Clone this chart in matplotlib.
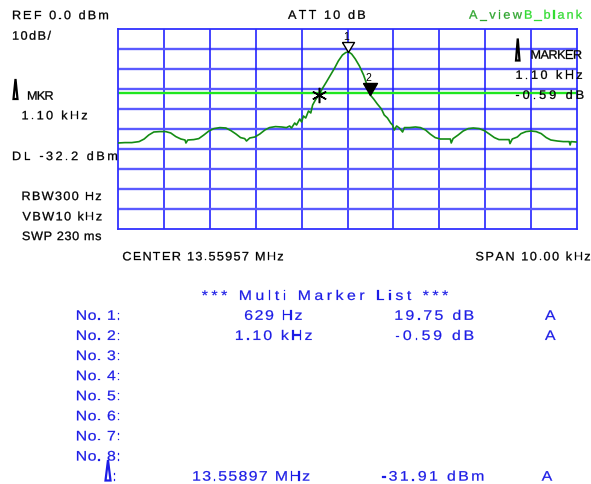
"""Spectrum analyser screen: marker trace plus multi marker list."""

import matplotlib
matplotlib.use("Agg")
import matplotlib.pyplot as plt
from matplotlib import font_manager
from matplotlib.font_manager import FontProperties
from matplotlib.ft2font import FT2Font
from matplotlib.patches import PathPatch, Polygon
from matplotlib.textpath import TextPath
from matplotlib.transforms import Affine2D

W, H, DPI = 591, 485, 100

# ── screen settings ──────────────────────────────────────────────────────────
ref_level_dbm = 0.0
db_per_div = 10
n_div = 10
span_khz = 10.0
display_line_dbm = -32.2

# ── trace, frequency offset from centre (kHz) / level (dBm) ──────────────────
freq_khz = [
    -5.00, -4.85, -4.70, -4.54, -4.43, -4.33, -4.22, -4.09, -3.96, -3.85,
    -3.74, -3.63, -3.54, -3.52, -3.48, -3.35, -3.24, -3.13, -3.02, -2.91,
    -2.78, -2.65, -2.54, -2.43, -2.33, -2.24, -2.20, -2.13, -2.02, -1.91,
    -1.80, -1.70, -1.57, -1.43, -1.33, -1.26, -1.22, -1.15, -1.11, -1.04,
    -1.00, -0.96, -0.91, -0.85, -0.80, -0.76, -0.70, -0.62, -0.54, -0.46,
    -0.37, -0.28, -0.20, -0.11, -0.04, 0.02, 0.09, 0.17, 0.26, 0.35,
    0.41, 0.49, 0.57, 0.65, 0.74, 0.80, 0.87, 0.94, 0.98, 1.02,
    1.07, 1.13, 1.20, 1.24, 1.35, 1.48, 1.59, 1.70, 1.80, 1.91,
    2.02, 2.15, 2.24, 2.26, 2.30, 2.41, 2.52, 2.63, 2.74, 2.87,
    2.98, 3.09, 3.20, 3.30, 3.43, 3.52, 3.54, 3.59, 3.70, 3.78,
    3.89, 4.00, 4.11, 4.22, 4.33, 4.43, 4.57, 4.70, 4.83, 4.85,
    4.87, 4.98,
]
level_dbm = [
    -57.0, -56.8, -56.8, -56.3, -55.0, -53.0, -51.5, -51.3, -51.3, -52.0,
    -53.8, -55.0, -55.5, -57.0, -55.5, -55.3, -54.8, -53.0, -51.0, -49.8,
    -49.3, -49.5, -50.8, -52.5, -54.3, -54.8, -56.0, -54.5, -54.0, -52.5,
    -50.5, -49.3, -48.8, -49.0, -49.3, -48.5, -49.5, -47.0, -48.0, -45.0,
    -46.5, -43.5, -44.5, -41.0, -42.0, -38.0, -35.5, -32.8, -29.5, -26.5,
    -23.0, -19.5, -16.0, -13.0, -11.8, -11.4, -12.5, -15.0, -18.5, -23.0,
    -27.0, -32.8, -35.0, -37.5, -40.0, -43.0, -44.5, -47.0, -48.0, -50.5,
    -48.5, -49.5, -51.5, -49.3, -49.3, -49.0, -49.3, -50.5, -52.5, -54.3,
    -55.0, -55.0, -55.0, -57.0, -54.8, -53.0, -51.0, -49.8, -49.5, -49.8,
    -50.8, -52.5, -54.3, -55.3, -55.3, -55.3, -57.3, -55.0, -54.0, -52.3,
    -51.3, -51.0, -51.3, -52.3, -54.3, -55.5, -56.0, -56.3, -56.3, -58.0,
    -56.3, -56.5,
]

# ── markers (reference marker + delta markers) ───────────────────────────────
ref_mkr_khz = -0.62
ref_mkr_dbm = -32.8
delta_khz = [0.63, 1.10]
delta_level_dbm = [-11.4, -32.8]
delta_names = ["1", "2"]

# ── marker list rows ─────────────────────────────────────────────────────────
row_names = ["No. 1:", "No. 2:", "No. 3:", "No. 4:", "No. 5:", "No. 6:", "No. 7:", "No. 8:"]
row_freq = ["629 Hz", "1.10 kHz"]
row_level = ["19.75 dB", "-0.59 dB"]

# glyph height (px), width stretch and outline weight for each text group
TOP = dict(em=12.2, sx=1.04, lw=0.2)
BLUE = "#1c1ce6"
TAB = dict(em=13.8, sx=1.15, lw=0.15, color=BLUE)
FAMILY = "Liberation Sans"

fig = plt.figure(figsize=(W / DPI, H / DPI), dpi=DPI)
fig.patch.set_facecolor("white")

# plot area in screen pixels: x 118..577, y 30..230
ax = fig.add_axes([118 / W, 1 - 230 / H, (577 - 118) / W, 200 / H])
ax.set_xlim(-span_khz / 2, span_khz / 2)
ax.set_ylim(ref_level_dbm - n_div * db_per_div, ref_level_dbm)
ax.set_xticks([])
ax.set_yticks([])
for s in ax.spines.values():
    s.set_color("#3030ff")
    s.set_linewidth(1.3)

for i in range(1, n_div):
    ax.axvline(-span_khz / 2 + i * span_khz / n_div, color="#2424ff", lw=1.2, zorder=1)
    ax.axhline(ref_level_dbm - i * db_per_div, color="#5a5aff", lw=1.7, zorder=1)

ax.axhline(display_line_dbm, color="#1ee61e", lw=1.7, zorder=2)
ax.plot(freq_khz, level_dbm, color="#148c14", lw=1.2, zorder=3)

# reference marker
ax.plot([ref_mkr_khz], [ref_mkr_dbm], marker=(6, 2, 0), ms=11, mec="black", mew=1.1,
        color="black", ls="none", zorder=5)

# delta markers: triangles with the tip on the trace
tri1 = [(-0.6, 1), (0.6, 1), (0, 0), (-0.6, 1)]
tri2 = [(-0.58, 1), (0.58, 1), (0, 0), (-0.58, 1)]
for name, dk, lv, verts, ms, fill in zip(delta_names, delta_khz, delta_level_dbm,
                                         [tri1, tri2], [14.4, 17.3], ["white", "black"]):
    fx = ref_mkr_khz + dk
    ax.plot([fx], [lv], marker=verts, ms=ms, mfc=fill, mec="black", mew=1.0,
            ls="none", zorder=6)
    ax.annotate(name, xy=(fx, lv), xytext=(-1, 0.5 * ms + 0.6), textcoords="offset points",
                ha="center", va="bottom", fontsize=7.5, family=FAMILY, zorder=7)

# ── letter-spaced screen text, drawn glyph by glyph in pixel units ───────────
FP = FontProperties(family=FAMILY)
ft = FT2Font(font_manager.findfont(FP))


def spread(s, x0, y, x1=None, em=12.2, sx=1.0, lw=0.2, color="black"):
    """Draw s with its ink from x0 to x1 (pixels from left), centred on row y (from top)."""
    ft.set_size(em, 72)
    adv = [ft.load_char(ord(c)).linearHoriAdvance / 65536 * sx for c in s]
    paths = [None if c == " " else TextPath((0, 0), c, size=em, prop=FP) for c in s]
    lsb = paths[0].get_extents().x0 * sx
    ink = sum(adv[:-1]) + paths[-1].get_extents().x1 * sx - lsb
    gap = 0 if x1 is None or len(s) < 2 else (x1 - x0 - ink) / (len(s) - 1)
    base = H - (y + 0.716 * em / 2)
    x = x0 - lsb
    for p, a in zip(paths, adv):
        if p is not None:
            tr = Affine2D().scale(sx, 1).translate(x, base)
            fig.add_artist(PathPatch(p, transform=tr, facecolor=color,
                                     edgecolor=color, lw=lw))
        x += a + gap


def icon(x0, x1, ytop, ybot, color):
    pts = [(x0 / W, 1 - ybot / H), (x1 / W, 1 - ybot / H), ((x0 + x1) / 2 / W, 1 - ytop / H)]
    fig.add_artist(Polygon(pts, closed=True, facecolor="white", edgecolor=color,
                           lw=1.6, transform=fig.transFigure))


spread("REF 0.0 dBm", 13, 15.8, 108, **TOP)
spread("10dB/", 13, 36.3, 51, **TOP)
icon(13.5, 17.5, 80, 100, "black")
spread("MKR", 28, 96.3, 53, **TOP)
spread("1.10 kHz", 22.5, 116, 87, **TOP)
spread("ATT 10 dB", 288, 15.5, 365, **TOP)
spread("A_view", 469, 15.3, 522, color="#2fa52f", **TOP)
spread("B_blank", 525, 15.3, 582, color="#32dc32", **TOP)
icon(516, 519.5, 39.5, 61.5, "black")
spread("MARKER", 531.5, 55.3, 581.5, **TOP)
spread("1.10 kHz", 516.5, 75.5, 582, **TOP)
spread("-0.59 dB", 516, 95.5, 583.5, **TOP)
spread("DL -32.2 dBm", 13, 156.7, 117, **TOP)
spread("RBW300 Hz", 22.5, 196.7, 101, **TOP)
spread("VBW10 kHz", 22.5, 217, 101.5, **TOP)
spread("SWP 230 ms", 22.5, 236.7, 101, **TOP)
spread("CENTER 13.55957 MHz", 123, 257, 283, **TOP)
spread("SPAN 10.00 kHz", 476, 257, 590, **TOP)

# ── multi marker list ────────────────────────────────────────────────────────
spread("*** Multi Marker List ***", 202, 296, 448, **TAB)
for i, name in enumerate(row_names):
    spread(name, 77, 315.9 + 20.1 * i, 119.3, **TAB)
freq_span = [(245, 301.7), (236, 311.7)]
for i, (fq, lv) in enumerate(zip(row_freq, row_level)):
    y = 315.9 + 20.1 * i
    spread(fq, freq_span[i][0], y, freq_span[i][1], **TAB)
    spread(lv, 395.5, y, 473.3, **TAB)
    spread("A", 545, y, **TAB)

icon(105.5, 110.5, 461, 481.5, BLUE)
spread(":", 113.5, 476.7, **TAB)
spread("13.55897 MHz", 193.3, 476.7, 309.3, **TAB)
spread("-31.91 dBm", 381.7, 476.7, 483.3, **TAB)
spread("A", 541.7, 476.7, **TAB)

fig.savefig("out.png", dpi=DPI)
plt.close(fig)
